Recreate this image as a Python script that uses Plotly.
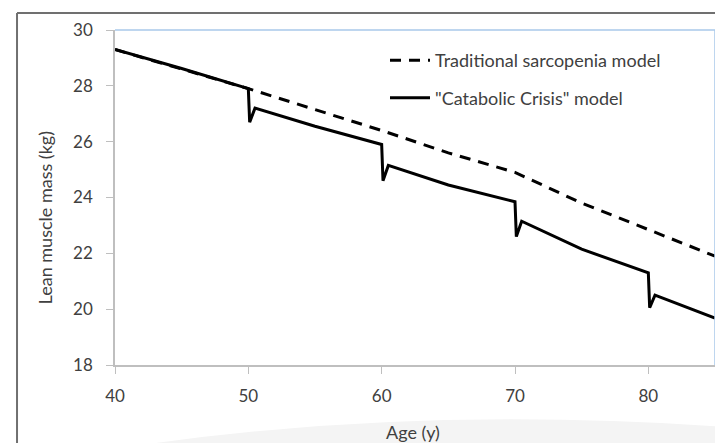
import plotly.graph_objects as go

# ---- data ----
trad_age = [40, 50, 55, 60, 65, 70, 75, 80, 85]
trad_mass = [29.3, 27.9, 27.15, 26.4, 25.6, 24.9, 23.8, 22.85, 21.9]

cat_age = [40, 45, 50, 50.1, 50.5, 55, 60, 60.1, 60.5, 65, 70, 70.1, 70.5, 75, 80, 80.1, 80.5, 85]
cat_mass = [29.3, 28.62, 27.9, 26.7, 27.2, 26.55, 25.9, 24.6, 25.15, 24.45, 23.85, 22.6, 23.15, 22.15, 21.3, 20.05, 20.5, 19.68]

trad_name = "Traditional sarcopenia model"
cat_name = '"Catabolic Crisis" model'
x_ticks = [40, 50, 60, 70, 80]
y_ticks = [18, 20, 22, 24, 26, 28, 30]
x_title = "Age (y)"
y_title = "Lean muscle mass (kg)"

FONT = "Lato"
TXT = "#404040"

fig = go.Figure()
fig.add_trace(go.Scatter(x=trad_age, y=trad_mass, mode="lines", name=trad_name,
                         legendgroup="a",
                         line=dict(color="black", width=3, dash="11px,8px")))
fig.add_trace(go.Scatter(x=cat_age, y=cat_mass, mode="lines", name=cat_name,
                         legendgroup="b",
                         line=dict(color="black", width=3)))

# page body has an 8px margin, so the figure is sized to the visible area
fig.update_layout(
    width=715, height=435,
    margin=dict(l=107, r=8, t=22, b=78),
    paper_bgcolor="white", plot_bgcolor="white",
    font=dict(family=FONT, size=17, color=TXT),
    showlegend=True,
    legend=dict(x=0.45, y=0.964, xanchor="left", yanchor="top",
                bgcolor="rgba(0,0,0,0)", tracegroupgap=11, itemwidth=40,
                font=dict(family=FONT, size=18, color=TXT)),
    xaxis=dict(range=[40, 85], tickvals=x_ticks, showgrid=False, zeroline=False,
               showline=True, linecolor="#bfbfbf", linewidth=1.5,
               ticks="outside", ticklen=7, tickcolor="#bfbfbf",
               ticklabelstandoff=8, tickfont=dict(size=17, color=TXT)),
    yaxis=dict(range=[18, 30], tickvals=y_ticks, showgrid=False, zeroline=False,
               showline=True, linecolor="#bfbfbf", linewidth=1.5,
               ticks="outside", ticklen=7, tickcolor="#bfbfbf",
               ticklabelstandoff=10, tickfont=dict(size=17, color=TXT)),
)

shapes = [
    # bottom soft shadow
    dict(type="path", xref="paper", yref="paper",
         path="M 0.04,-0.24 Q 0.5,-0.12 1.02,-0.185 L 1.02,-0.25 L 0.04,-0.25 Z",
         fillcolor="#f4f4f4", line=dict(width=0), layer="below"),
    # plot-area border top/right (light blue)
    dict(type="line", xref="paper", yref="paper", x0=0, x1=1, y0=1, y1=1,
         line=dict(color="#a9c8ea", width=1.5)),
    dict(type="line", xref="paper", yref="paper", x0=1, x1=1, y0=0, y1=1,
         line=dict(color="#a9c8ea", width=1.5)),
    # outer frame
    dict(type="line", xref="paper", yref="paper", x0=-0.1633, x1=1.012, y0=1.0507, y1=1.0507,
         line=dict(color="#707070", width=2)),
    dict(type="line", xref="paper", yref="paper", x0=-0.1633, x1=-0.1633, y0=-0.3, y1=1.0507,
         line=dict(color="#707070", width=2)),
]
fig.update_layout(shapes=shapes)

fig.add_annotation(text=y_title, xref="paper", yref="paper", x=-0.117, y=0.44,
                   textangle=-90, showarrow=False, xanchor="center", yanchor="middle",
                   font=dict(family=FONT, size=18, color=TXT))
fig.add_annotation(text=x_title, xref="paper", yref="paper", x=0.496, y=-0.2,
                   showarrow=False, xanchor="center", yanchor="middle",
                   font=dict(family=FONT, size=18, color=TXT))

fig.write_html("out.html")
